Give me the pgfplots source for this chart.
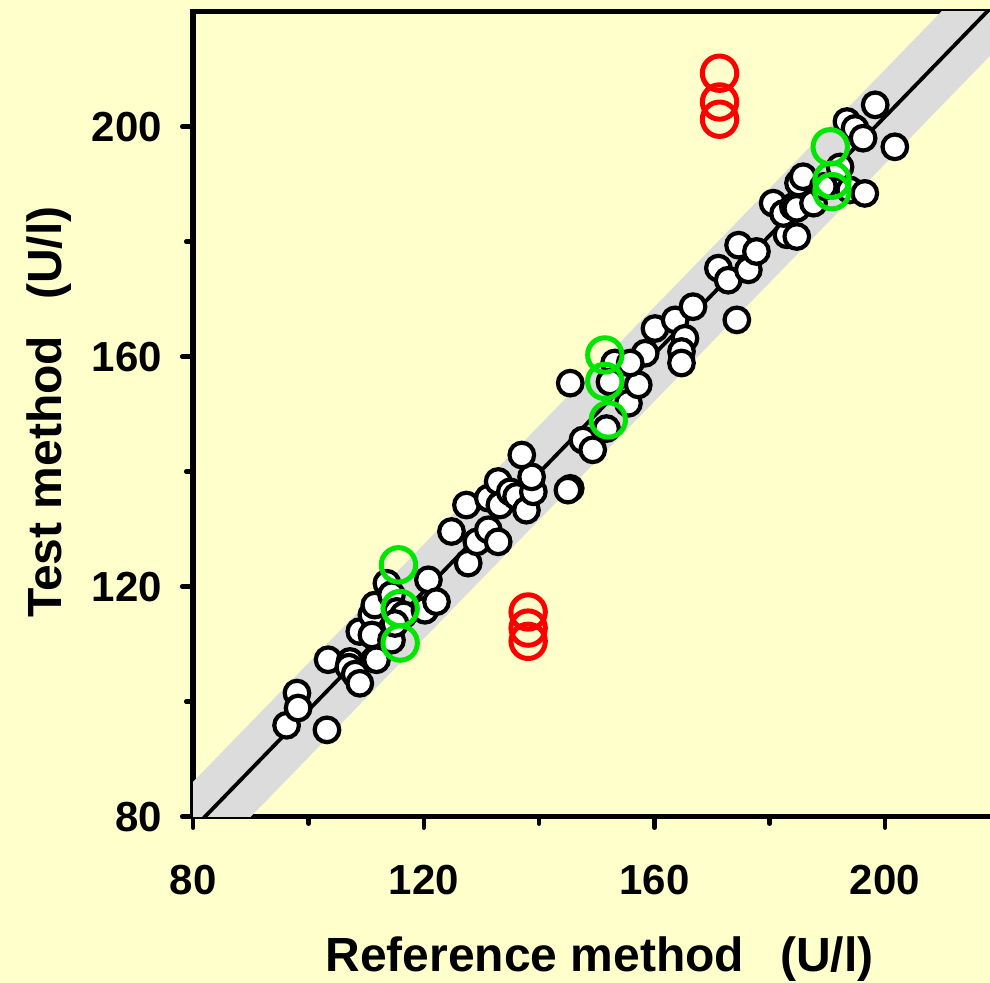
\documentclass[border=0pt]{standalone}
\usepackage{fontspec}
\setmainfont{Liberation Sans}
\usepackage{pgfplots}
\pgfplotsset{compat=1.18}
\definecolor{bg}{RGB}{255,255,204}
\definecolor{bandc}{RGB}{220,220,220}
\definecolor{mygreen}{RGB}{0,230,0}
\definecolor{myred}{RGB}{255,0,0}

\pgfplotstableread{
x y
96.2 95.9
98.0 101.5
98.2 98.9
103.2 95.1
103.4 107.3
107.2 107.0
107.0 106.0
108.1 104.8
108.9 103.2
111.8 107.3
108.9 112.2
111.0 115.1
111.0 111.6
111.5 116.8
113.6 120.6
114.4 118.6
114.4 110.7
115.3 115.7
116.5 115.1
115.0 113.6
120.8 121.2
120.2 115.9
122.2 117.4
124.8 129.6
127.7 124.1
129.2 127.8
131.2 129.9
132.9 127.8
127.4 134.2
131.2 135.4
132.9 138.3
133.2 134.2
135.0 136.5
136.1 135.7
137.8 133.3
139.0 136.5
138.7 139.1
137.0 142.9
145.4 137.1
145.0 136.8
147.6 145.5
149.3 143.8
145.4 155.4
151.7 147.5
153.1 158.9
152.3 155.6
155.5 151.9
157.2 155.1
158.4 160.6
155.8 158.9
160.1 164.9
163.6 166.4
166.7 168.7
165.3 163.2
164.7 160.9
164.7 158.9
174.3 166.4
171.1 175.4
172.8 173.3
174.6 179.4
176.3 175.1
177.7 178.3
183.0 181.2
184.7 180.9
180.6 186.7
182.4 184.9
184.1 186.1
184.7 185.8
185.0 190.2
187.6 186.7
185.8 191.3
189.3 189.6
193.9 189.0
192.2 193.0
196.5 188.4
198.3 203.8
193.4 200.9
194.8 199.7
196.2 198.0
201.7 196.5
}\whitepts

\pgfplotstableread{
x y
115.6 123.8
115.9 116.2
115.9 110.2
151.4 160.3
151.4 155.7
152.0 149.0
190.5 196.5
190.8 190.7
190.8 188.7
}\greenpts

\pgfplotstableread{
x y
171.3 209.3
171.3 204.3
171.3 201.3
138.1 115.6
138.1 112.8
138.1 110.5
}\redpts

\begin{document}
\begin{tikzpicture}
\fill[bg] (-193.2bp,-166.3bp) rectangle (796.8bp,816.7bp);
\begin{axis}[
  at={(0,0)}, anchor=south west,
  scale only axis, width=807.1bp, height=805bp,
  xmin=80, xmax=220, ymin=80, ymax=220,
  axis line style={line width=5.5bp, black},
  xtick={80,120,160,200}, ytick={80,120,160,200},
  minor xtick={100,140,180}, minor ytick={100,140,180},
  tick align=outside, tick pos=left,
  major tick length=11bp, minor tick length=7bp,
  major tick style={line width=4.5bp, black, line cap=round},
  minor tick style={line width=4.5bp, black, line cap=round},
  /pgf/number format/assume math mode=true,
  ticklabel style={font=\fontsize{42bp}{42bp}\selectfont\bfseries},
  xticklabel style={anchor=north, inner sep=0pt},
  yticklabel style={anchor=east, inner sep=0pt},
  xticklabel shift=37bp,
  yticklabel shift=20bp,
  label style={font=\fontsize{48bp}{48bp}\selectfont\bfseries},
  xlabel={Reference method\hspace{36bp}(U/l)},
  ylabel={Test method\hspace{36bp}(U/l)},
  xlabel style={at={(axis description cs:0.5034,-0.1925)}, anchor=base, inner sep=0pt},
  ylabel style={at={(axis description cs:-0.1626,0.5027)}, anchor=base, inner sep=0pt},
]
\addplot[draw=none, fill=bandc] coordinates {(70,75.77) (230,240.89) (230,224.49) (70,59.37)} -- cycle;
\addplot[black, line width=3.8bp] coordinates {(78,75.83) (222,224.44)};
\addplot[only marks, mark=*, mark size=12.3bp, mark options={fill=white, draw=black, line width=4.2bp}] table[x=x,y=y] {\whitepts};
\addplot[only marks, mark=o, mark size=17.2bp, mark options={draw=mygreen, line width=5bp}] table[x=x,y=y] {\greenpts};
\addplot[only marks, mark=o, mark size=17.2bp, mark options={draw=myred, line width=5bp}] table[x=x,y=y] {\redpts};
\end{axis}
\pgfresetboundingbox
\useasboundingbox (-193.2bp,-166.3bp) rectangle (796.8bp,816.7bp);
\end{tikzpicture}
\end{document}
